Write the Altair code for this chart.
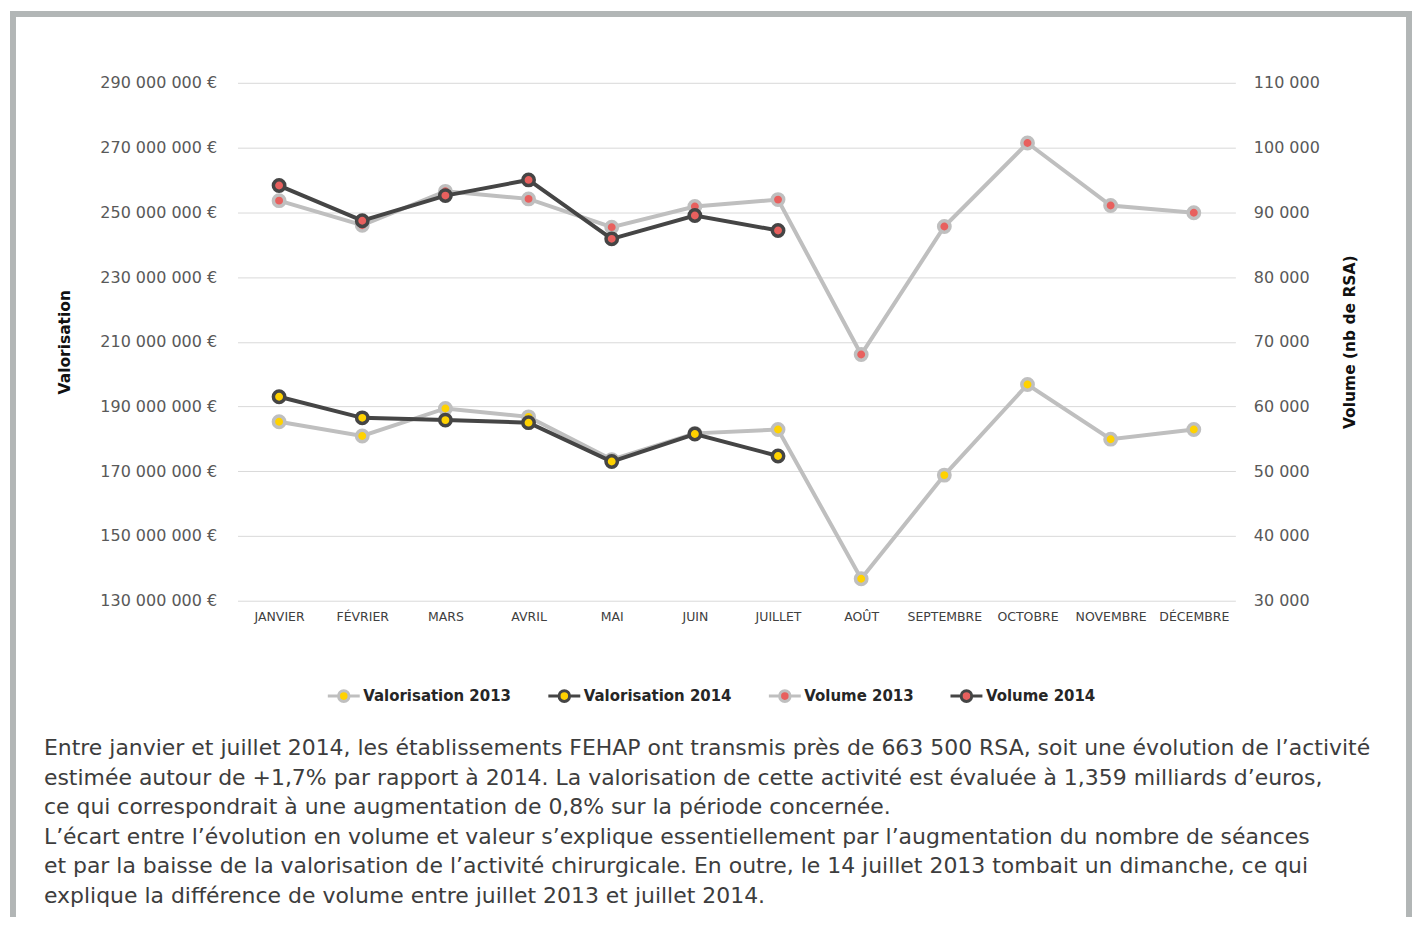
import altair as alt
import pandas as pd

# ---- data ----
months = ["JANVIER", "FÉVRIER", "MARS", "AVRIL", "MAI", "JUIN", "JUILLET",
          "AOÛT", "SEPTEMBRE", "OCTOBRE", "NOVEMBRE", "DÉCEMBRE"]

val_2013 = [185_300_000, 180_900_000, 189_400_000, 186_800_000, 173_600_000, 181_700_000,
            182_900_000, 136_800_000, 168_800_000, 196_800_000, 179_900_000, 182_900_000]
val_2014 = [193_000_000, 186_500_000, 185_800_000, 185_000_000, 173_000_000, 181_500_000,
            174_700_000]
vol_2013 = [91_800, 88_000, 93_240, 92_070, 87_700, 90_900, 91_960,
            68_030, 87_800, 100_700, 91_040, 89_920]
vol_2014 = [94_130, 88_700, 92_580, 95_000, 85_900, 89_500, 87_190]

series_names = ["Valorisation 2013", "Valorisation 2014", "Volume 2013", "Volume 2014"]
val_ticks = [130_000_000, 150_000_000, 170_000_000, 190_000_000, 210_000_000,
             230_000_000, 250_000_000, 270_000_000, 290_000_000]
vol_ticks = [30_000, 40_000, 50_000, 60_000, 70_000, 80_000, 90_000, 100_000, 110_000]

note_lines = [
    "Entre janvier et juillet 2014, les établissements FEHAP ont transmis près de 663 500 RSA, soit une évolution de l’activité",
    "estimée autour de +1,7% par rapport à 2014. La valorisation de cette activité est évaluée à 1,359 milliards d’euros,",
    "ce qui correspondrait à une augmentation de 0,8% sur la période concernée.",
    "L’écart entre l’évolution en volume et valeur s’explique essentiellement par l’augmentation du nombre de séances",
    "et par la baisse de la valorisation de l’activité chirurgicale. En outre, le 14 juillet 2013 tombait un dimanche, ce qui",
    "explique la différence de volume entre juillet 2013 et juillet 2014.",
]

rows = []
for name, vals in zip(series_names, [val_2013, val_2014, vol_2013, vol_2014]):
    for m, v in zip(months, vals):
        rows.append({"mois": m, "serie": name, "valeur": v})
df = pd.DataFrame(rows)

FONT = "DejaVu Sans"
LEG_PATH = "M-1,0L-0.33,0M0.33,0L1,0M-0.33,0A0.33,0.33,0,1,1,0.33,0A0.33,0.33,0,1,1,-0.33,0Z"

legend = alt.Legend(
    title=None, orient="none", legendX=89, legendY=597, direction="horizontal",
    symbolType=LEG_PATH, symbolSize=1024, symbolStrokeWidth=3, symbolOpacity=1,
    labelFont=FONT, labelFontWeight="bold", labelFontSize=15, labelColor="#262626",
    labelOffset=2, columnPadding=30,
)
stroke_enc = alt.Stroke("serie:N", scale=alt.Scale(domain=series_names,
                        range=["#bfbfbf", "#454545", "#bfbfbf", "#454545"]), legend=legend)
fill_enc = alt.Fill("serie:N", scale=alt.Scale(domain=series_names,
                    range=["#ffd200", "#ffd200", "#e8605e", "#e8605e"]), legend=legend)

x_enc = alt.X("mois:N", sort=months, scale=alt.Scale(type="point", padding=0.5),
              axis=alt.Axis(title=None, labelAngle=0, domain=False, ticks=False, grid=False,
                            labelFont=FONT, labelFontSize=12.5, labelColor="#404040",
                            labelPadding=10))

def y_left():
    return alt.Y("valeur:Q", scale=alt.Scale(domain=[130_000_000, 290_000_000], nice=False, zero=False),
                 axis=alt.Axis(orient="left", values=val_ticks, title="Valorisation",
                               labelExpr="replace(replace(format(datum.value, ','), ',', ' '), ',', ' ') + ' €'",
                               grid=True, gridColor="#d9d9d9", gridWidth=1, domain=False, ticks=False,
                               labelFont=FONT, labelFontSize=16, labelColor="#595959", labelPadding=21,
                               titleFont=FONT, titleFontSize=15.5, titleFontWeight="bold", titleColor="#111111",
                               titleX=-173, titleY=259.5, titleAngle=270, titleAlign="center",
                               titleBaseline="middle"))

def y_right():
    return alt.Y("valeur:Q", scale=alt.Scale(domain=[30_000, 110_000], nice=False, zero=False),
                 axis=alt.Axis(orient="right", values=vol_ticks, title="Volume (nb de RSA)",
                               labelExpr="replace(format(datum.value, ','), ',', ' ')",
                               grid=False, domain=False, ticks=False,
                               labelFont=FONT, labelFontSize=16, labelColor="#595959", labelPadding=18,
                               titleFont=FONT, titleFontSize=15.5, titleFontWeight="bold", titleColor="#111111",
                               titleX=114, titleY=259.5, titleAngle=270, titleAlign="center",
                               titleBaseline="middle"))

base = alt.Chart(df)

def series_layers(name, yfun):
    sub = base.transform_filter(alt.datum.serie == name)
    line = sub.mark_line(strokeWidth=4).encode(x=x_enc, y=yfun(), stroke=stroke_enc)
    pts = sub.mark_point(filled=True, size=130, strokeWidth=3.5, opacity=1).encode(
        x=x_enc, y=yfun(), stroke=stroke_enc, fill=fill_enc)
    return [line, pts]

val_layer = alt.layer(*(series_layers("Valorisation 2013", y_left) + series_layers("Valorisation 2014", y_left)))
vol_layer = alt.layer(*(series_layers("Volume 2013", y_right) + series_layers("Volume 2014", y_right)))

one = pd.DataFrame({"k": [0]})
FRAME = "#b2b6b6"
frame_left = alt.Chart(one).mark_rule(color=FRAME, strokeWidth=6, strokeCap="square").encode(
    x=alt.value(-225), y=alt.value(-69), y2=alt.value(833))
frame_top = alt.Chart(one).mark_rule(color=FRAME, strokeWidth=6, strokeCap="square").encode(
    x=alt.value(-225), x2=alt.value(1174), y=alt.value(-69))
frame_right = alt.Chart(one).mark_rule(color=FRAME, strokeWidth=6, strokeCap="square").encode(
    x=alt.value(1174), y=alt.value(-69), y2=alt.value(833))

note = alt.Chart(one).mark_text(text=note_lines, align="left", baseline="alphabetic", font=FONT,
                                fontSize=22, color="#3d3d3d", lineHeight=29.5).encode(
    x=alt.value(-194), y=alt.value(674))

chart = alt.layer(val_layer, vol_layer, frame_left, frame_top, frame_right, note).resolve_scale(
    y="independent"
).properties(width=1000, height=519, padding=0, background="white").configure_view(stroke=None)

chart.save("out.html", embed_options={"renderer": "svg", "actions": False})
